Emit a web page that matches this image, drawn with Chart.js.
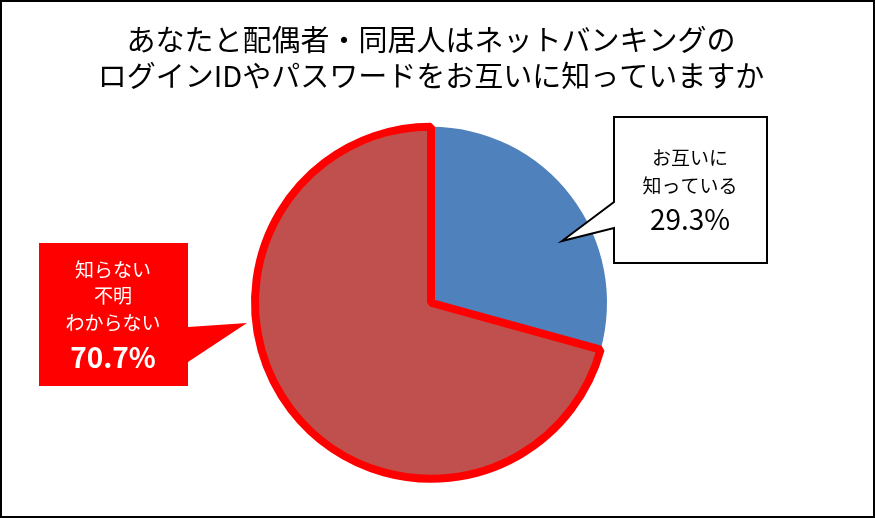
<!DOCTYPE html>
<html lang="ja">
<head>
<meta charset="utf-8">
<title>ネットバンキングのログインID・パスワード</title>
<script src="https://cdn.jsdelivr.net/npm/chart.js@4.4.1/dist/chart.umd.min.js"></script>
<style>
  html, body { margin: 0; padding: 0; background: #fff; }
  #wrap { width: 875px; height: 518px; }
</style>
</head>
<body>
<div id="wrap"><canvas id="pieChart" width="875" height="518"></canvas></div>
<script>
// データ
const titleLines = ['あなたと配偶者・同居人はネットバンキングの', 'ログインIDやパスワードをお互いに知っていますか'];
const categories = ['お互いに知っている', '知らない・不明・わからない'];
const values = [29.3, 70.7];
const calloutLines = [['お互いに', '知っている'], ['知らない', '不明', 'わからない']];

const FONT = '"Noto Sans CJK JP", "Noto Sans", sans-serif';

// 吹き出しの形を描く
function bubblePath(ctx, pts) {
    ctx.beginPath();
    ctx.moveTo(pts[0][0], pts[0][1]);
    for (let i = 1; i < pts.length; i++) ctx.lineTo(pts[i][0], pts[i][1]);
    ctx.closePath();
}

function drawLines(ctx, lines, cx, ys, color) {
    ctx.fillStyle = color;
    ctx.textAlign = 'center';
    ctx.textBaseline = 'middle';
    lines.forEach((t, i) => ctx.fillText(t, cx, ys[i]));
}

const frameAndCallouts = {
    id: 'frameAndCallouts',
    beforeDraw(chart) {
        const ctx = chart.ctx;
        ctx.save();
        ctx.fillStyle = '#fff';
        ctx.fillRect(0, 0, chart.width, chart.height);
        ctx.restore();
    },
    afterDraw(chart) {
        const ctx = chart.ctx;
        ctx.save();

        // 右の吹き出し（お互いに知っている）
        bubblePath(ctx, [[614, 117], [767, 117], [767, 263], [614, 263], [614, 228], [562, 241], [614, 202]]);
        ctx.fillStyle = '#fff';
        ctx.fill();
        ctx.lineWidth = 2;
        ctx.strokeStyle = '#000';
        ctx.lineJoin = 'miter';
        ctx.stroke();
        ctx.font = '19px ' + FONT;
        drawLines(ctx, calloutLines[0], 690, [158, 186], '#000');
        ctx.font = '28px ' + FONT;
        drawLines(ctx, [values[0].toFixed(1) + '%'], 690, [219], '#000');

        // 左の吹き出し（知らない）
        bubblePath(ctx, [[39, 243], [188, 243], [188, 327], [247, 323], [188, 362], [188, 386], [39, 386]]);
        ctx.fillStyle = '#FF0000';
        ctx.fill();
        ctx.font = '19px ' + FONT;
        drawLines(ctx, calloutLines[1], 113, [270, 296, 323], '#fff');
        ctx.font = 'bold 28px ' + FONT;
        drawLines(ctx, [values[1].toFixed(1) + '%'], 113, [357], '#fff');

        // 外枠
        ctx.lineWidth = 2;
        ctx.strokeStyle = '#000';
        ctx.strokeRect(1, 1, chart.width - 2, chart.height - 2);
        ctx.restore();
    }
};

const pieChart = new Chart(document.getElementById('pieChart'), {
    type: 'pie',
    data: {
        labels: categories,
        datasets: [{
            data: values,
            backgroundColor: ['#4F81BD', '#C0504D'],
            borderColor: ['#4F81BD', '#FF0000'],
            borderWidth: [0, 8],
            radius: 176
        }]
    },
    options: {
        responsive: false,
        animation: false,
        devicePixelRatio: 1,
        layout: {
            padding: { left: 0, right: 13, top: 0, bottom: 7 }
        },
        plugins: {
            legend: { display: false },
            tooltip: { enabled: false },
            title: {
                display: true,
                text: titleLines,
                color: '#000',
                font: { family: FONT, size: 29, weight: 'normal', lineHeight: 1.25 },
                padding: { top: 22, bottom: 0 }
            }
        }
    },
    plugins: [frameAndCallouts]
});
</script>
</body>
</html>
